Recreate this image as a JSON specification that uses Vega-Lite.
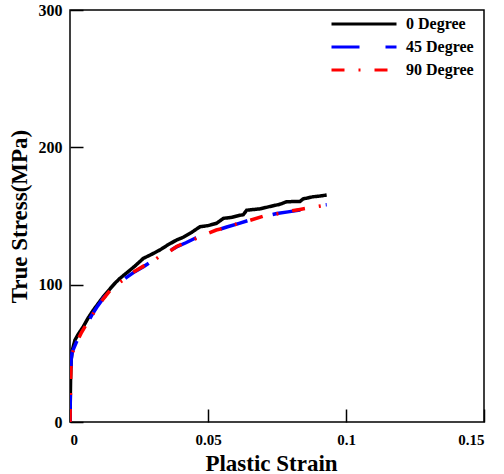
{
  "$schema": "https://vega.github.io/schema/vega-lite/v6.json",
  "width": 414,
  "height": 412,
  "autosize": "none",
  "padding": {"left": 70, "top": 10, "right": 20, "bottom": 52},
  "background": "white",
  "config": {
    "view": {"stroke": "black", "strokeWidth": 1.5},
    "font": "Liberation Serif"
  },
  "data": {
    "values": [
      {"series": "0 Degree", "strain": 0, "stress": 0},
      {"series": "0 Degree", "strain": 0.0002, "stress": 30},
      {"series": "0 Degree", "strain": 0.0004, "stress": 45},
      {"series": "0 Degree", "strain": 0.0008, "stress": 52},
      {"series": "0 Degree", "strain": 0.0018, "stress": 59.7},
      {"series": "0 Degree", "strain": 0.003, "stress": 64},
      {"series": "0 Degree", "strain": 0.0048, "stress": 69.4},
      {"series": "0 Degree", "strain": 0.0065, "stress": 75.5},
      {"series": "0 Degree", "strain": 0.0085, "stress": 81.6},
      {"series": "0 Degree", "strain": 0.0105, "stress": 87},
      {"series": "0 Degree", "strain": 0.0121, "stress": 91.3},
      {"series": "0 Degree", "strain": 0.0145, "stress": 97},
      {"series": "0 Degree", "strain": 0.0165, "stress": 101.5},
      {"series": "0 Degree", "strain": 0.0181, "stress": 104.6},
      {"series": "0 Degree", "strain": 0.0205, "stress": 108.5},
      {"series": "0 Degree", "strain": 0.0235, "stress": 113.5},
      {"series": "0 Degree", "strain": 0.0266, "stress": 119.2},
      {"series": "0 Degree", "strain": 0.029, "stress": 121.5},
      {"series": "0 Degree", "strain": 0.0326, "stress": 125.3},
      {"series": "0 Degree", "strain": 0.0355, "stress": 129},
      {"series": "0 Degree", "strain": 0.0386, "stress": 132.5},
      {"series": "0 Degree", "strain": 0.041, "stress": 134.5},
      {"series": "0 Degree", "strain": 0.044, "stress": 138},
      {"series": "0 Degree", "strain": 0.0471, "stress": 142.2},
      {"series": "0 Degree", "strain": 0.05, "stress": 143},
      {"series": "0 Degree", "strain": 0.0531, "stress": 144.7},
      {"series": "0 Degree", "strain": 0.0556, "stress": 148.3},
      {"series": "0 Degree", "strain": 0.0585, "stress": 149},
      {"series": "0 Degree", "strain": 0.0615, "stress": 150.5},
      {"series": "0 Degree", "strain": 0.0628, "stress": 151},
      {"series": "0 Degree", "strain": 0.064, "stress": 154.2},
      {"series": "0 Degree", "strain": 0.0688, "stress": 155.2},
      {"series": "0 Degree", "strain": 0.0737, "stress": 157.5},
      {"series": "0 Degree", "strain": 0.076, "stress": 158.5},
      {"series": "0 Degree", "strain": 0.0785, "stress": 160.4},
      {"series": "0 Degree", "strain": 0.0833, "stress": 160.6},
      {"series": "0 Degree", "strain": 0.0845, "stress": 162.5},
      {"series": "0 Degree", "strain": 0.0858, "stress": 163},
      {"series": "0 Degree", "strain": 0.088, "stress": 164},
      {"series": "0 Degree", "strain": 0.0905, "stress": 164.5},
      {"series": "0 Degree", "strain": 0.093, "stress": 165.3},
      {"series": "45 Degree", "strain": 0, "stress": 0},
      {"series": "45 Degree", "strain": 0.0002, "stress": 30},
      {"series": "45 Degree", "strain": 0.0004, "stress": 45},
      {"series": "45 Degree", "strain": 0.0008, "stress": 51},
      {"series": "45 Degree", "strain": 0.0024, "stress": 58.5},
      {"series": "45 Degree", "strain": 0.004, "stress": 65},
      {"series": "45 Degree", "strain": 0.006, "stress": 71},
      {"series": "45 Degree", "strain": 0.0078, "stress": 77.5},
      {"series": "45 Degree", "strain": 0.0097, "stress": 83.5},
      {"series": "45 Degree", "strain": 0.012, "stress": 90},
      {"series": "45 Degree", "strain": 0.0145, "stress": 95.5},
      {"series": "45 Degree", "strain": 0.0175, "stress": 100.5},
      {"series": "45 Degree", "strain": 0.0205, "stress": 105.3},
      {"series": "45 Degree", "strain": 0.0235, "stress": 109.5},
      {"series": "45 Degree", "strain": 0.0266, "stress": 113},
      {"series": "45 Degree", "strain": 0.0296, "stress": 117},
      {"series": "45 Degree", "strain": 0.0326, "stress": 120.2},
      {"series": "45 Degree", "strain": 0.0356, "stress": 124},
      {"series": "45 Degree", "strain": 0.0386, "stress": 127.5},
      {"series": "45 Degree", "strain": 0.042, "stress": 130.5},
      {"series": "45 Degree", "strain": 0.0455, "stress": 134},
      {"series": "45 Degree", "strain": 0.0495, "stress": 137.4},
      {"series": "45 Degree", "strain": 0.053, "stress": 139.5},
      {"series": "45 Degree", "strain": 0.0568, "stress": 142},
      {"series": "45 Degree", "strain": 0.061, "stress": 144.5},
      {"series": "45 Degree", "strain": 0.0652, "stress": 147.1},
      {"series": "45 Degree", "strain": 0.07, "stress": 149.5},
      {"series": "45 Degree", "strain": 0.0749, "stress": 151.8},
      {"series": "45 Degree", "strain": 0.079, "stress": 153},
      {"series": "45 Degree", "strain": 0.0833, "stress": 154.4},
      {"series": "45 Degree", "strain": 0.0875, "stress": 156.5},
      {"series": "45 Degree", "strain": 0.0918, "stress": 158},
      {"series": "45 Degree", "strain": 0.093, "stress": 158.2},
      {"series": "90 Degree", "strain": 0, "stress": 0},
      {"series": "90 Degree", "strain": 0.0002, "stress": 28},
      {"series": "90 Degree", "strain": 0.0004, "stress": 43},
      {"series": "90 Degree", "strain": 0.0008, "stress": 50},
      {"series": "90 Degree", "strain": 0.0024, "stress": 58},
      {"series": "90 Degree", "strain": 0.004, "stress": 64.5},
      {"series": "90 Degree", "strain": 0.006, "stress": 71.5},
      {"series": "90 Degree", "strain": 0.0078, "stress": 77},
      {"series": "90 Degree", "strain": 0.0097, "stress": 83},
      {"series": "90 Degree", "strain": 0.012, "stress": 89.5},
      {"series": "90 Degree", "strain": 0.0145, "stress": 95.8},
      {"series": "90 Degree", "strain": 0.0175, "stress": 101},
      {"series": "90 Degree", "strain": 0.0205, "stress": 105},
      {"series": "90 Degree", "strain": 0.0235, "stress": 109.8},
      {"series": "90 Degree", "strain": 0.0266, "stress": 113.5},
      {"series": "90 Degree", "strain": 0.0296, "stress": 116.5},
      {"series": "90 Degree", "strain": 0.0326, "stress": 120.8},
      {"series": "90 Degree", "strain": 0.0356, "stress": 123.5},
      {"series": "90 Degree", "strain": 0.0386, "stress": 127.8},
      {"series": "90 Degree", "strain": 0.042, "stress": 130.8},
      {"series": "90 Degree", "strain": 0.0455, "stress": 133.5},
      {"series": "90 Degree", "strain": 0.0495, "stress": 137},
      {"series": "90 Degree", "strain": 0.053, "stress": 139.8},
      {"series": "90 Degree", "strain": 0.0568, "stress": 141.5},
      {"series": "90 Degree", "strain": 0.061, "stress": 144.8},
      {"series": "90 Degree", "strain": 0.0652, "stress": 146.8},
      {"series": "90 Degree", "strain": 0.07, "stress": 149.8},
      {"series": "90 Degree", "strain": 0.0749, "stress": 151.5},
      {"series": "90 Degree", "strain": 0.079, "stress": 153.4},
      {"series": "90 Degree", "strain": 0.0833, "stress": 154.8},
      {"series": "90 Degree", "strain": 0.0875, "stress": 156.2},
      {"series": "90 Degree", "strain": 0.0918, "stress": 157.6},
      {"series": "90 Degree", "strain": 0.093, "stress": 157.8}
    ]
  },
  "mark": {"type": "line", "strokeWidth": 3.5, "clip": true},
  "encoding": {
    "x": {
      "field": "strain", "type": "quantitative",
      "scale": {"domain": [0, 0.15], "nice": false, "zero": false},
      "axis": {
        "title": "Plastic Strain", "values": [0, 0.05, 0.1, 0.15],
        "format": ".2~f", "grid": false, "domain": false, "offset": -13, "ticks": true,
        "tickColor": "black", "tickWidth": 1.5, "tickSize": 13, "tickOpacity": 1,
        "labelFont": "Liberation Serif", "labelFontWeight": "bold", "labelFontSize": 15, "labelColor": "black",
        "labelPadding": 10,
        "titleFont": "Liberation Serif", "titleFontWeight": "bold", "titleFontSize": 23, "titleColor": "black",
        "titlePadding": 5, "titleX": 201
      }
    },
    "y": {
      "field": "stress", "type": "quantitative",
      "scale": {"domain": [0, 300], "nice": false},
      "axis": {
        "title": "True Stress(MPa)", "values": [0, 100, 200, 300],
        "grid": false, "domain": false, "offset": -13, "ticks": true,
        "tickColor": "black", "tickWidth": 1.5, "tickSize": 13, "tickOpacity": 1,
        "labelFont": "Liberation Serif", "labelFontWeight": "bold", "labelFontSize": 16, "labelColor": "black",
        "labelPadding": 8,
        "titleFont": "Liberation Serif", "titleFontWeight": "bold", "titleFontSize": 23, "titleColor": "black",
        "titlePadding": 7
      }
    },
    "color": {
      "field": "series", "type": "nominal",
      "scale": {"domain": ["0 Degree", "45 Degree", "90 Degree"], "range": ["#000000", "#0000ff", "#ff0000"]},
      "legend": {
        "title": null, "orient": "none", "legendX": 286, "legendY": 6,
        "symbolType": "M-5,0H5", "symbolSize": 169, "symbolStrokeWidth": 3,
        "labelFont": "Liberation Serif", "labelFontWeight": "bold", "labelFontSize": 16, "labelColor": "black",
        "labelOffset": 34, "rowPadding": 7
      }
    },
    "strokeDash": {
      "field": "series", "type": "nominal",
      "scale": {"domain": ["0 Degree", "45 Degree", "90 Degree"], "range": [[1, 0], [28, 26], [13, 14, 2, 14]]},
      "legend": {
        "title": null, "orient": "none", "legendX": 286, "legendY": 6,
        "symbolType": "M-5,0H5", "symbolSize": 169, "symbolStrokeWidth": 3,
        "labelFont": "Liberation Serif", "labelFontWeight": "bold", "labelFontSize": 16, "labelColor": "black",
        "labelOffset": 34, "rowPadding": 7
      }
    }
  }
}
